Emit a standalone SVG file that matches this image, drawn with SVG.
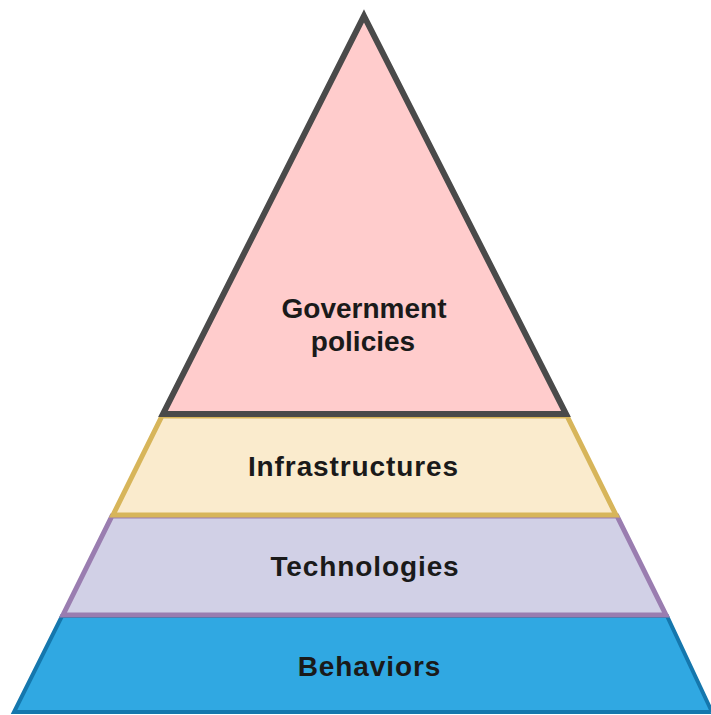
<svg xmlns="http://www.w3.org/2000/svg" width="711" height="715" viewBox="0 0 711 715">
<style>
.lbl{font-family:"Liberation Sans",Arial,sans-serif;font-weight:bold;font-size:28px;fill:#1a1a1a;text-anchor:middle}
.wide{letter-spacing:0.9px}
.layer{stroke-linejoin:miter}
</style>
<rect width="711" height="715" fill="#ffffff"/>
<g id="behaviors">
<polygon class="layer" points="62,616 667,616 712,712 14,712" fill="#30A8E2" stroke="#1577AD" stroke-width="4"/>
<text class="lbl wide" x="369.5" y="676" font-size="29">Behaviors</text>
</g>
<g id="technologies">
<polygon class="layer" points="112,516 617,516 666,615 63,615" fill="#D1D0E6" stroke="#9A7DB0" stroke-width="5"/>
<text class="lbl wide" x="365" y="576">Technologies</text>
</g>
<g id="infrastructures">
<polygon class="layer" points="162,416 567,416 616,515 113,515" fill="#FAEBCD" stroke="#D7B55A" stroke-width="5"/>
<text class="lbl wide" x="353.5" y="476" font-size="29">Infrastructures</text>
</g>
<g id="government-policies">
<polygon class="layer" points="364,16 566,414 163,414" fill="#FFCCCC" stroke="#4A4A4A" stroke-width="6"/>
<text class="lbl" font-size="27" x="364" y="318">Government</text>
<text class="lbl" font-size="27" x="363" y="351">policies</text>
</g>
<g id="connectors"></g>
</svg>
